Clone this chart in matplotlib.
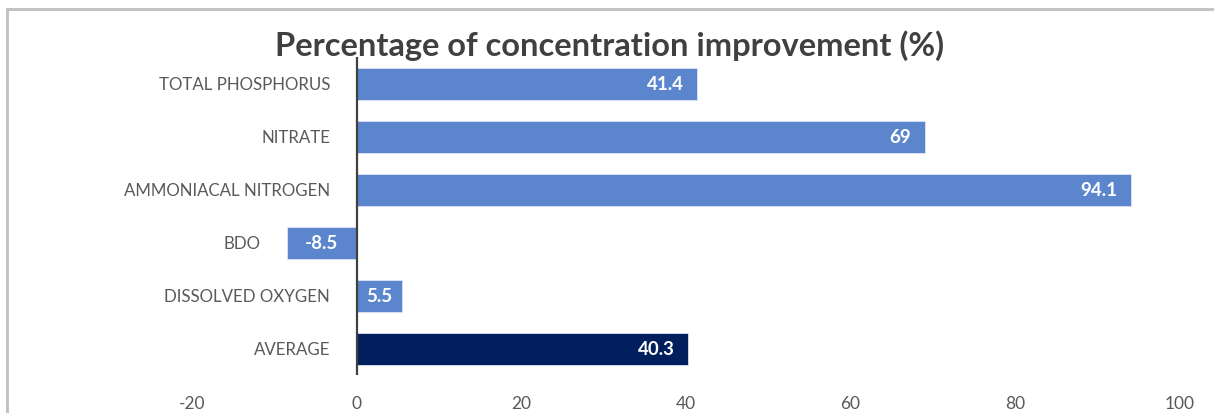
import matplotlib.pyplot as plt
from matplotlib.patches import Rectangle

categories = ['TOTAL PHOSPHORUS', 'NITRATE', 'AMMONIACAL NITROGEN', 'BDO',
              'DISSOLVED OXYGEN', 'AVERAGE']
values = [41.4, 69, 94.1, -8.5, 5.5, 40.3]
labels = ['41.4', '69', '94.1', '-8.5', '5.5', '40.3']
xticks = [-20, 0, 20, 40, 60, 80, 100]

light = '#5B86CE'
dark = '#001F5C'
colors = [light] * 5 + [dark]

plt.rcParams['font.family'] = ['Lato', 'DejaVu Sans']

fig = plt.figure(figsize=(12.14, 4.14), dpi=100)
ax = fig.add_axes([0.158, 0.0906, 0.814, 0.7684])

pos = list(range(len(categories)))
ax.barh(pos, values, height=0.59, color=colors, edgecolor='#DCE4F2', linewidth=0.6)
ax.set_ylim(5.5, -0.5)
ax.set_xlim(-20, 100)

for y, v, lab in zip(pos, values, labels):
    if abs(v) < 10:
        ax.text(v / 2, y, lab, ha='center', va='center', color='white',
                fontsize=13.5, fontweight='bold')
    else:
        ax.annotate(lab, (v, y), xytext=(-10, 0), textcoords='offset points',
                    ha='right', va='center', color='white',
                    fontsize=13.5, fontweight='bold')

# category names sit left of the zero line, or left of a negative bar
for y, v, cat in zip(pos, values, categories):
    ax.annotate(cat, (min(0, v), y), xytext=(-19, 0), textcoords='offset points',
                ha='right', va='center', color='#595959', fontsize=12.2)

ax.axvline(0, color='#404040', lw=1.6)
ax.set_yticks([])
ax.set_xticks(xticks)
ax.set_xticklabels([str(t) for t in xticks], fontsize=12.5, color='#595959')
ax.tick_params(length=0)
ax.tick_params(axis='x', pad=14)
for s in ax.spines.values():
    s.set_visible(False)

fig.text(0.502, 0.89, 'Percentage of concentration improvement (%)', ha='center',
         va='center', fontsize=23.5, fontweight='bold', color='#404040')

fig.patches.append(Rectangle((7 / 1214, -0.1), 1.2, (409 - 5) / 414 + 0.1,
                             transform=fig.transFigure, fill=False,
                             edgecolor='#BFBFBF', lw=2))

fig.savefig('out.png', dpi=100)
